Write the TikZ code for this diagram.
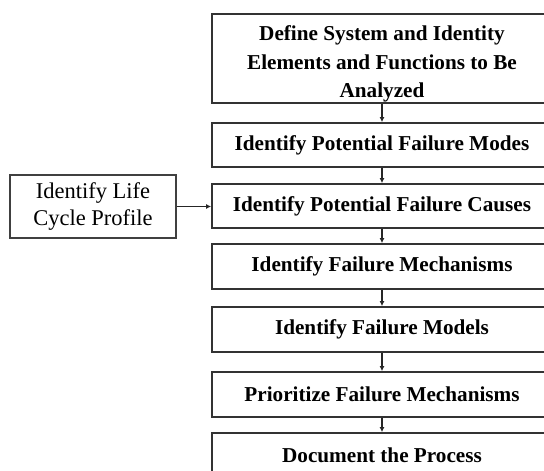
\documentclass[tikz,border=0pt]{standalone}
\usepackage{fontspec}
\setmainfont{Liberation Serif}
\usetikzlibrary{arrows.meta}
\tikzset{
  stepbox/.style={draw=black!80, line width=1.8pt, fill=white, minimum width=340pt,
    align=center, inner sep=0pt, font=\fontsize{21.2}{28.5}\selectfont\bfseries},
  sidebox/.style={draw=black!75, line width=1.6pt, fill=white, minimum width=166pt,
    minimum height=63pt, align=center, inner sep=0pt, font=\fontsize{22.5}{27}\selectfont},
  flow/.style={draw=black!85, line width=1.1pt, -{Latex[length=5pt,width=5pt]}}
}
\begin{document}
\begin{tikzpicture}[x=1pt,y=-1pt]
\useasboundingbox (0,0) rectangle (544,471);
\fill[white] (0,0) rectangle (544,471);

% main chain of steps (the boxes run past the right edge)
\node[stepbox, minimum height=89pt] (s1) at (382,58.5)
  {\rule{0pt}{26pt}Define System and Identity\\Elements and Functions to Be\\Analyzed};
\node[stepbox, minimum height=44pt] (s2) at (382,145) {Identify Potential Failure Modes};
\node[stepbox, minimum height=44pt] (s3) at (382,206) {Identify Potential Failure Causes};
\node[stepbox, minimum height=45pt] (s4) at (382,266.5) {Identify Failure Mechanisms};
\node[stepbox, minimum height=45pt] (s5) at (382,329.5) {Identify Failure Models};
\node[stepbox, minimum height=45pt] (s6) at (382,394.5) {Prioritize Failure Mechanisms};
\node[stepbox, minimum height=45pt] (s7) at (382,455.5) {Document the Process};

% side input
\node[sidebox] (lc) at (93,206.5) {Identify Life\\Cycle Profile};

\draw[flow] (s1) -- (s2);
\draw[flow] (s2) -- (s3);
\draw[flow] (s3) -- (s4);
\draw[flow] (s4) -- (s5);
\draw[flow] (s5) -- (s6);
\draw[flow] (s6) -- (s7);
\draw[flow] (lc) -- (lc -| s3.west);
\end{tikzpicture}
\end{document}
